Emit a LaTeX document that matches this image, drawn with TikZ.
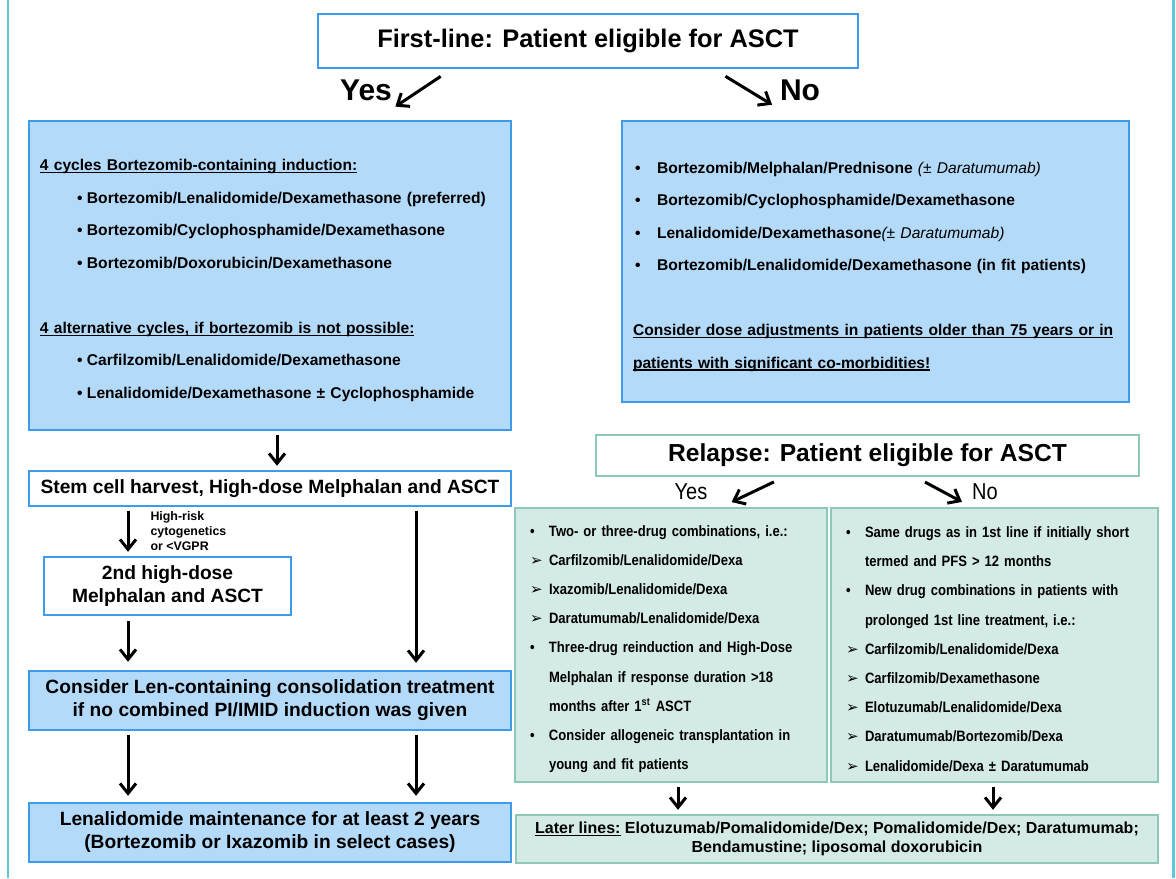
\documentclass[tikz,border=0pt]{standalone}
\usepackage{fontspec}
\setmainfont{Liberation Sans}
\newfontfamily\narrowsf{Liberation Sans}[FakeStretch=0.87]
\newfontfamily\symsf{DejaVu Sans}
\usetikzlibrary{arrows.meta,calc}

\definecolor{boxblue}{HTML}{3D9BE9}
\definecolor{fillblue}{HTML}{B4DAF9}
\definecolor{boxgreen}{HTML}{8EC8B8}
\definecolor{fillgreen}{HTML}{D4EAE5}
\definecolor{framecyan}{HTML}{5CC8DC}

\newsavebox\ulbox
\newcommand{\uln}[1]{\sbox\ulbox{#1}\rlap{\rule[-1.3pt]{\wd\ulbox}{0.6pt}}\usebox\ulbox}
\newcommand{\lhead}[1]{\hspace*{5.5pt}\uln{#1}}
\newcommand{\lbul}{\hspace*{24pt}\makebox[5pt][l]{\textbullet}}
\newcommand{\rbul}{\hspace*{6.5pt}\makebox[11pt][l]{\textbullet}}
\newcommand{\gbul}{\hspace*{7.5pt}\makebox[9.5pt][l]{\textbullet}}
\newcommand{\garr}{\hspace*{7.5pt}\makebox[9.5pt][l]{{\symsf\char"27A2}}}
\newcommand{\gind}{\hspace*{17pt}}

\begin{document}
\begin{tikzpicture}[x=0.5pt,y=-0.5pt,
    bluebox/.style={draw=boxblue,fill=fillblue,line width=1.2pt,inner sep=0pt},
    whitebox/.style={draw=boxblue,fill=white,line width=1.2pt,inner sep=0pt},
    greenbox/.style={draw=boxgreen,fill=fillgreen,line width=1.2pt,inner sep=0pt},
    arr/.style={-{Straight Barb[length=5pt,width=8pt]},line width=1.5pt,shorten <=2pt,shorten >=2pt},
    bigfont/.style={font=\fontsize{9.6}{11.5}\selectfont\bfseries},
    listfont/.style={font=\fontsize{7.8}{16.25}\selectfont\bfseries},
    greenfont/.style={font=\narrowsf\fontsize{7.5}{14.6}\selectfont\bfseries}]
  \useasboundingbox (0,0) rectangle (1176,878);
  \draw[framecyan,line width=1pt] (8,0) -- (8,878);
  \draw[framecyan,line width=1.5pt] (1173,0) -- (1173,878);

  \coordinate (colA) at (128,0);
  \coordinate (colB) at (416,0);

  % first line
  \node[whitebox,minimum width=270pt,minimum height=27pt,font=\fontsize{12.7}{15}\selectfont\bfseries] (first) at (588,41) {First-line: Patient eligible for ASCT};
  \node[font=\fontsize{15}{18}\selectfont\bfseries] (yes) at (366,90) {Yes};
  \node[font=\fontsize{15}{18}\selectfont\bfseries] (no) at (800,90) {No};

  \node[bluebox,listfont,minimum width=241pt,minimum height=154.5pt,text width=241pt,align=left] (induct) at (270,275.5) {%
    \rule{0pt}{10.7pt}\lhead{4 cycles Bortezomib-containing induction:}\\
    \lbul Bortezomib/Lenalidomide/Dexamethasone (preferred)\\
    \lbul Bortezomib/Cyclophosphamide/Dexamethasone\\
    \lbul Bortezomib/Doxorubicin/Dexamethasone\\[16.25pt]
    \lhead{4 alternative cycles, if bortezomib is not possible:}\\
    \lbul Carfilzomib/Lenalidomide/Dexamethasone\\
    \lbul Lenalidomide/Dexamethasone ± Cyclophosphamide};

  \node[bluebox,listfont,minimum width=253.5pt,minimum height=140.5pt,text width=253.5pt,align=left] (noasct) at (875.5,261.5) {%
    \rule{0pt}{10.7pt}\rbul Bortezomib/Melphalan/Prednisone {\mdseries\itshape(± Daratumumab)}\\
    \rbul Bortezomib/Cyclophosphamide/Dexamethasone\\
    \rbul Lenalidomide/Dexamethasone{\mdseries\itshape(± Daratumumab)}\\
    \rbul Bortezomib/Lenalidomide/Dexamethasone (in fit patients)\\[16.25pt]
    \lhead{Consider dose adjustments in patients older than 75 years or in}\\
    \lhead{patients with significant co-morbidities!}};

  \draw[arr] ($(first.south)+(-144,5)$) -- ($(induct.north)+(122,-11)$);
  \draw[arr] ($(first.south)+(134,5)$) -- ($(noasct.north)+(-100,-13)$);

  % transplant column
  \node[whitebox,bigfont,minimum width=241pt,minimum height=17.5pt] (stem) at (270,488.5) {Stem cell harvest, High-dose Melphalan and ASCT};
  \node[whitebox,bigfont,minimum width=123.5pt,minimum height=29pt,align=center] (second) at (167.5,586) {2nd high-dose\\Melphalan and ASCT};
  \node[bluebox,bigfont,minimum width=241pt,minimum height=29.5pt,align=center] (consol) at (270,700.5) {Consider Len-containing consolidation treatment\\if no combined PI/IMID induction was given};
  \node[bluebox,bigfont,minimum width=241pt,minimum height=29.5pt,align=center] (maint) at (270,832.5) {Lenalidomide maintenance for at least 2 years\\(Bortezomib or Ixazomib in select cases)};

  \draw[arr] ($(induct.south)+(7,0)$) -- ($(stem.north)+(7,0)$);
  \draw[arr] (stem.south -| colA) -- node[midway,anchor=west,xshift=10.5pt,inner sep=0pt,align=left,font=\fontsize{6.2}{7.5}\selectfont\bfseries] {High-risk\\cytogenetics\\or <VGPR} (second.north -| colA);
  \draw[arr,shorten <=2.5pt,shorten >=4pt] (second.south -| colA) -- (consol.north -| colA);
  \draw[arr,shorten >=3.5pt] (stem.south -| colB) -- (consol.north -| colB);
  \draw[arr,shorten >=3pt] (consol.south -| colA) -- (maint.north -| colA);
  \draw[arr,shorten >=3pt] (consol.south -| colB) -- (maint.north -| colB);

  % relapse
  \node[draw=boxgreen,fill=white,line width=1.2pt,inner sep=0pt,minimum width=271.5pt,minimum height=20.5pt,font=\fontsize{12.3}{15}\selectfont\bfseries] (relapse) at (867.5,455.5) {Relapse: Patient eligible for ASCT};
  \node[font=\narrowsf\fontsize{11.5}{14}\selectfont] (ryes) at (691,492) {Yes};
  \node[font=\narrowsf\fontsize{11.5}{14}\selectfont] (rno) at (985,492) {No};

  \node[greenbox,greenfont,minimum width=156pt,minimum height=137pt,text width=156pt,align=left] (gyes) at (671,645) {%
    \rule{0pt}{9.5pt}\gbul Two- or three-drug combinations, i.e.:\\
    \garr Carfilzomib/Lenalidomide/Dexa\\
    \garr Ixazomib/Lenalidomide/Dexa\\
    \garr Daratumumab/Lenalidomide/Dexa\\
    \gbul Three-drug reinduction and High-Dose\\
    \gind Melphalan if response duration >18\\
    \gind months after 1\textsuperscript{st} ASCT\\
    \gbul Consider allogeneic transplantation in\\
    \gind young and fit patients};

  \node[greenbox,greenfont,minimum width=163.5pt,minimum height=137pt,text width=163.5pt,align=left] (gno) at (994.5,645) {%
    \rule{0pt}{9.5pt}\gbul Same drugs as in 1st line if initially short\\
    \gind termed and PFS > 12 months\\
    \gbul New drug combinations in patients with\\
    \gind prolonged 1st line treatment, i.e.:\\
    \garr Carfilzomib/Lenalidomide/Dexa\\
    \garr Carfilzomib/Dexamethasone\\
    \garr Elotuzumab/Lenalidomide/Dexa\\
    \garr Daratumumab/Bortezomib/Dexa\\
    \garr Lenalidomide/Dexa ± Daratumumab};

  \draw[arr] ($(relapse.south)+(-90,3)$) -- ($(gyes.north)+(57,-3)$);
  \draw[arr] ($(relapse.south)+(54,3)$) -- ($(gno.north)+(-29,-3)$);

  \node[greenbox,minimum width=321pt,minimum height=24pt,align=center,font=\fontsize{8}{9.8}\selectfont\bfseries] (later) at (837,839) {\uln{Later lines:} Elotuzumab/Pomalidomide/Dex; Pomalidomide/Dex; Daratumumab;\\Bendamustine; liposomal doxorubicin};

  \draw[arr] (gyes.south -| 678,0) -- (later.north -| 678,0);
  \draw[arr] (gno.south -| 993,0) -- (later.north -| 993,0);
\end{tikzpicture}
\end{document}
